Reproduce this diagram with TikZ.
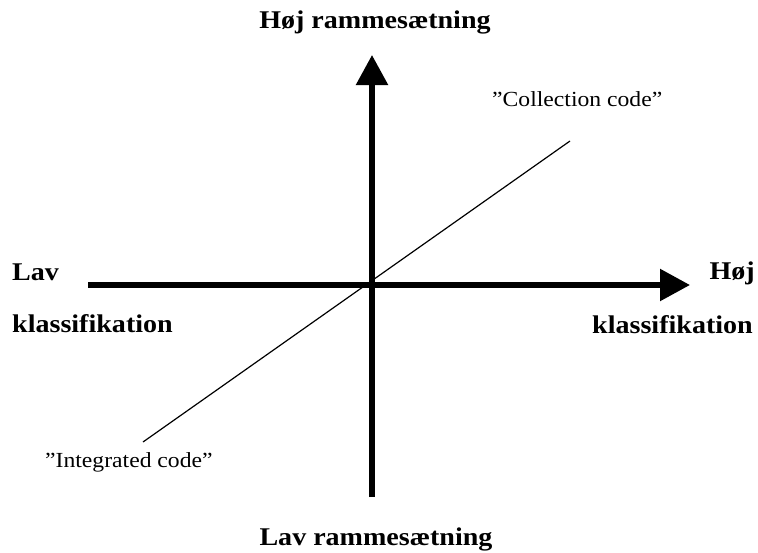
\documentclass[tikz,border=0pt]{standalone}
\usepackage{fontspec}
\setmainfont[FakeStretch=1.1]{Liberation Serif}
\usetikzlibrary{arrows.meta}
\tikzset{
  axis/.style={line width=5.5pt,-{Triangle[length=30pt,width=31pt]}},
  bigl/.style={font=\fontsize{25.5}{28}\selectfont\bfseries,inner sep=0pt},
  smalll/.style={font=\fontsize{21.5}{24}\selectfont,inner sep=0pt},
  diag/.style={line width=1.2pt}
}
\begin{document}
\begin{tikzpicture}[x=1pt,y=-1pt]
\useasboundingbox (0,0) rectangle (758,552);
\coordinate (vbot) at (372,497);
\coordinate (vtop) at (372,55);
\coordinate (hleft) at (88,285);
\coordinate (hright) at (690,285);
\coordinate (dlow) at (143,442);
\coordinate (dhigh) at (570,141);
\draw[axis] (vbot) -- (vtop);
\draw[axis] (hleft) -- (hright);
\draw[diag] (dlow) -- (dhigh);
\node[bigl,anchor=base] (ht) at (375,28) {Høj rammesætning};
\node[bigl,anchor=base] (lb) at (376,545) {Lav rammesætning};
\node[bigl,anchor=base west] (lav) at (12,280) {Lav};
\node[bigl,anchor=base west] (klL) at (12,332) {klassifikation};
\node[bigl,anchor=base east] (hoj) at (755,279) {Høj};
\node[bigl,anchor=base east] (klR) at (753,333) {klassifikation};
\node[smalll,anchor=base west] (coll) at (492,106) {”Collection code”};
\node[smalll,anchor=base west] (integ) at (45,467) {”Integrated code”};
\end{tikzpicture}
\end{document}
